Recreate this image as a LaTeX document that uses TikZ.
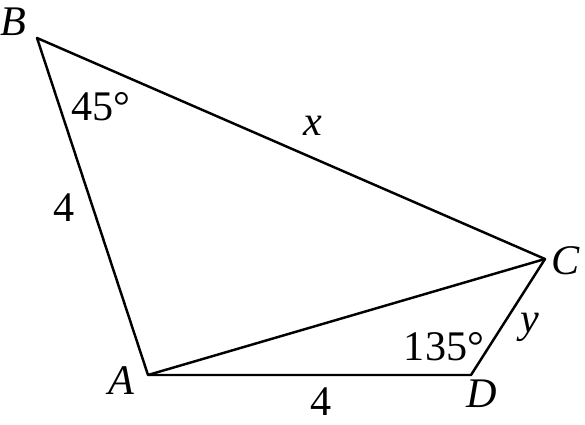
\documentclass[tikz,border=0pt]{standalone}
\usepackage{fontspec}
\setmainfont{Liberation Serif}
\usetikzlibrary{positioning}
\tikzset{>=latex}

\begin{document}
\begin{tikzpicture}[
        edge/.style={line width=1.4pt,line join=round},
        lbl/.style={font=\fontsize{24}{28}\selectfont,inner sep=0pt},
    ]
            \useasboundingbox (0,0) rectangle (11.7,8.5);
            \coordinate (B) at (0.74,7.74);
            \coordinate (A) at (2.96,1.0);
            \coordinate (D) at (9.42,1.0);
            \coordinate (C) at (10.9,3.32);
            \draw[edge] (B) -- (C) -- (D) -- (A) -- cycle;
            \draw[edge] (A) -- (C);
            \node[lbl] (labB) at (0.27,8.06) {\textit{B}};
            \node[lbl] (labA) at (2.42,0.88) {\textit{A}};
            \node[lbl] (labD) at (9.64,0.62) {\textit{D}};
            \node[lbl] (labC) at (11.32,3.28) {\textit{C}};
            \node[lbl] (angB) at (2.02,6.36) {45°};
            \node[lbl] (angD) at (8.88,1.56) {135°};
            \node[lbl] (sideAB) at (1.28,4.34) {4};
            \node[lbl] (sideAD) at (6.42,0.46) {4};
            \node[lbl] (sideBC) at (6.26,5.98) {\textit{x}};
            \node[lbl] (sideCD) at (10.6,1.96) {\textit{y}};
        \end{tikzpicture}
\end{document}
